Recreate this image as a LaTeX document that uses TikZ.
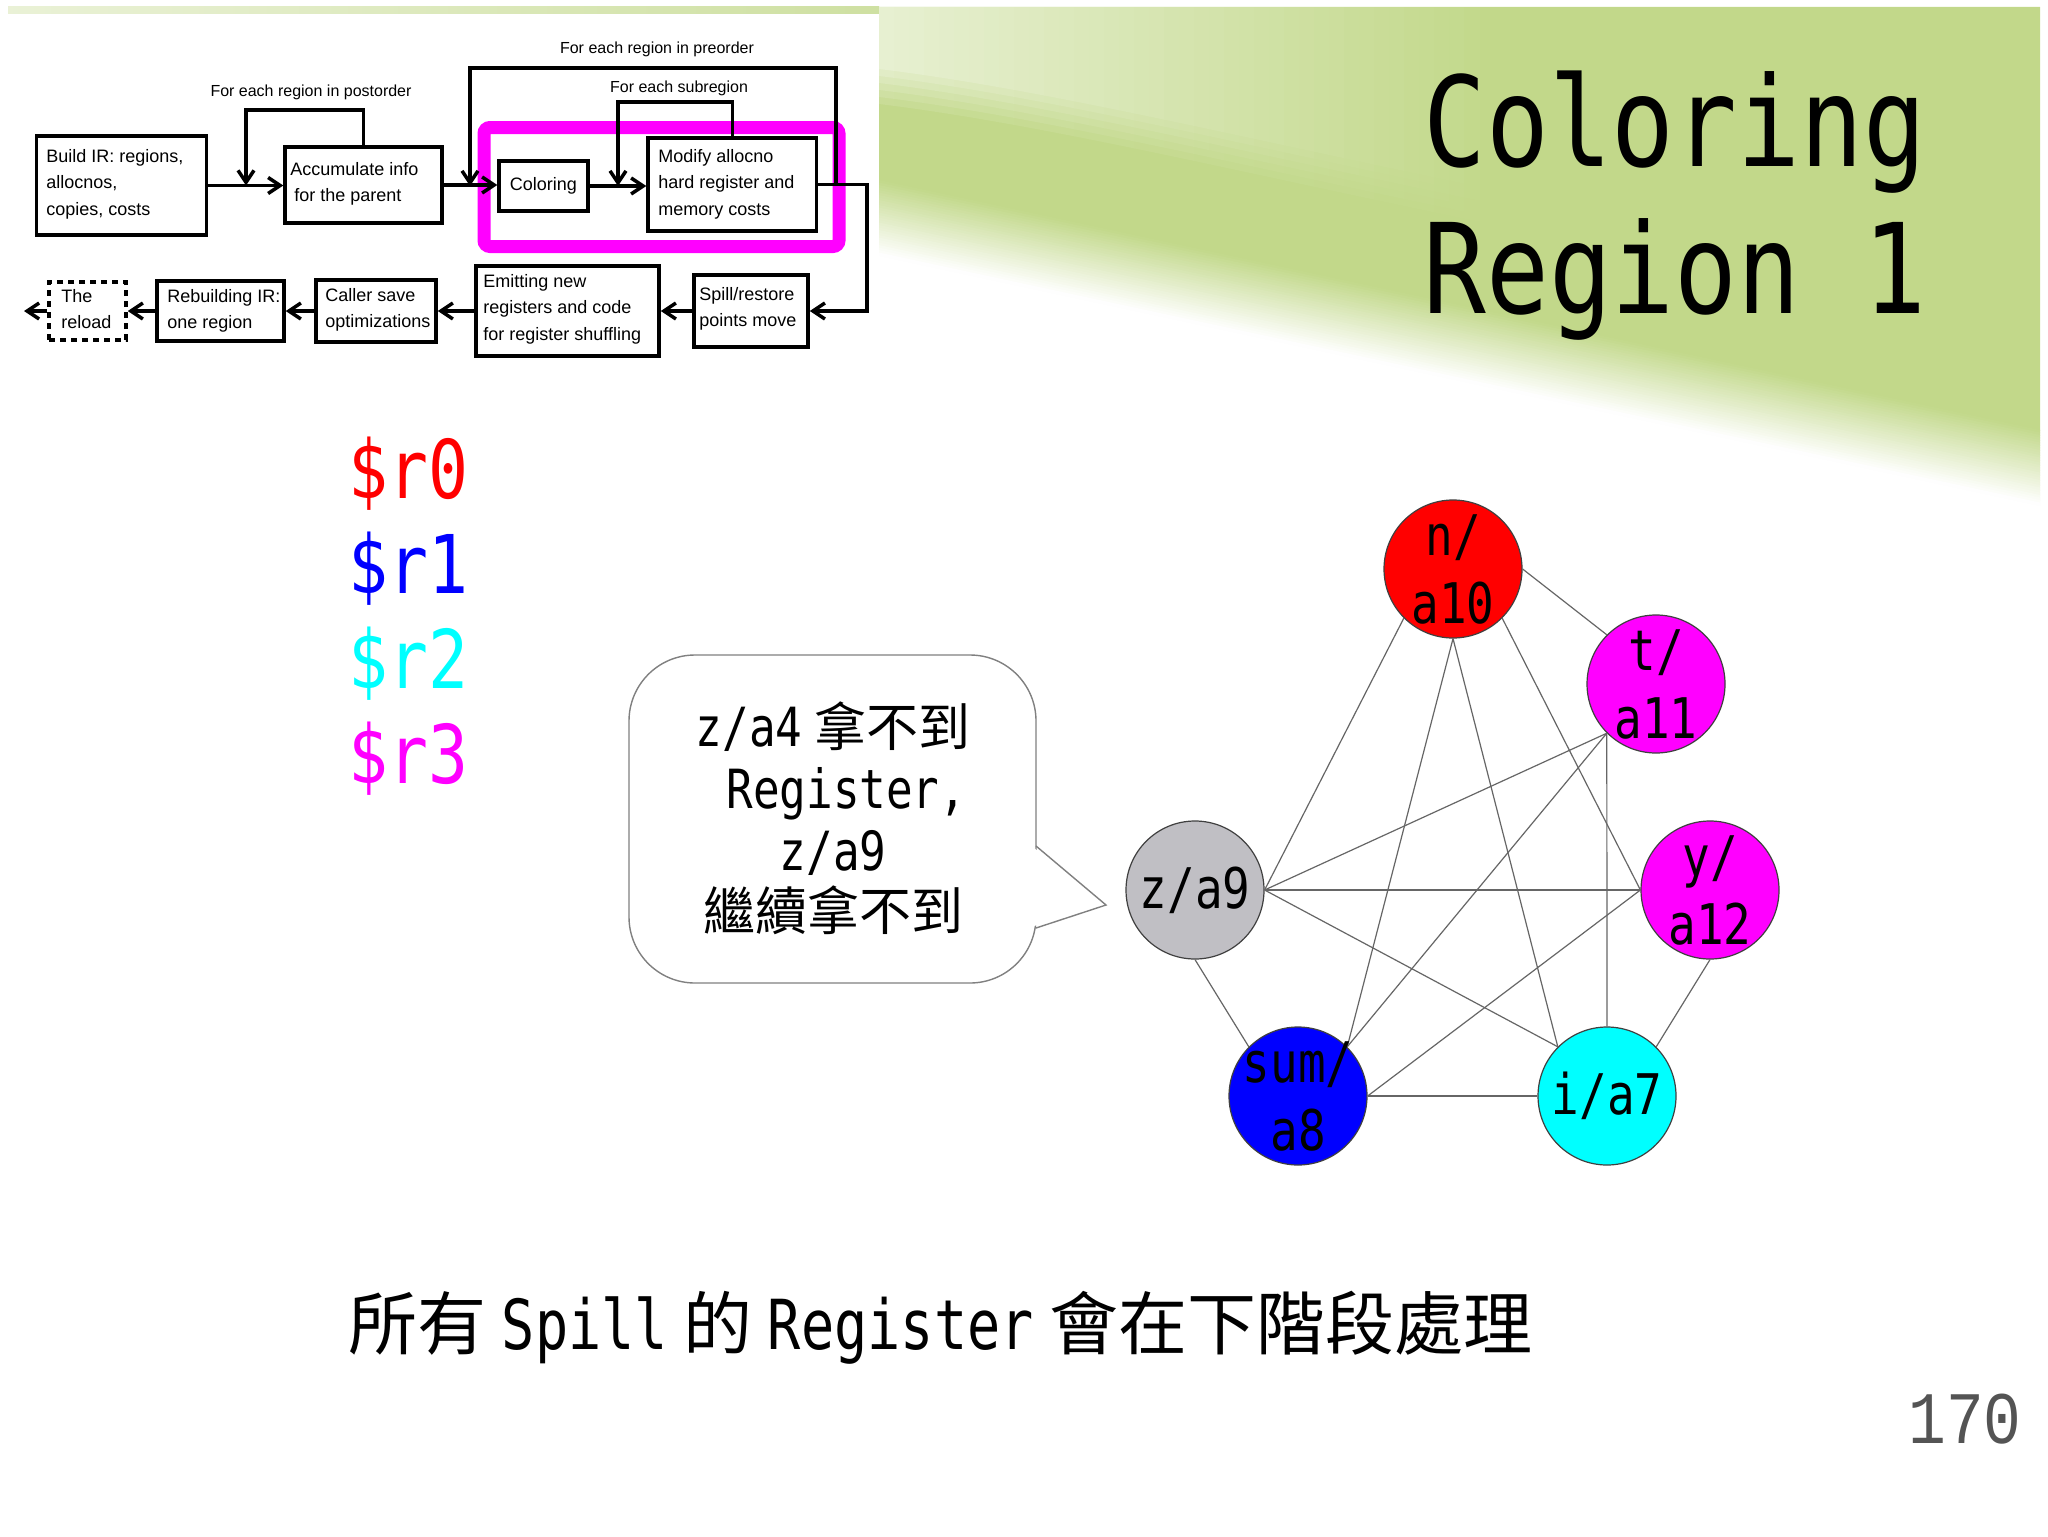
\documentclass[tikz,border=0pt]{standalone}
\usepackage{fontspec}
\usetikzlibrary{arrows.meta,calc}
\newfontfamily\monofont[FakeStretch=0.82]{DejaVu Sans Mono}
\newfontfamily\monotitle[FakeStretch=0.835]{DejaVu Sans Mono}
\newfontfamily\monob[FakeStretch=0.80]{DejaVu Sans Mono}
\newfontfamily\cjkfont{Noto Sans CJK TC}
\newfontfamily\fcfont{Liberation Sans}
\newfontfamily\pgnfont[FakeStretch=0.85]{Liberation Mono}
\definecolor{bggreen}{RGB}{194,216,138}
\definecolor{mag}{RGB}{255,0,255}
\definecolor{cyn}{RGB}{0,255,255}
\definecolor{zgray}{RGB}{192,191,196}
\definecolor{rd}{RGB}{255,0,0}
\definecolor{bl}{RGB}{0,0,255}
\begin{document}
\begin{tikzpicture}[x=0.5pt,y=-0.5pt,
  fcarrow/.style={line width=1.75pt,-{Straight Barb[length=6pt,width=8pt]}},
  fcbox/.style={draw,line width=1.75pt,inner sep=0pt},
  fctext/.style={anchor=west,align=left,inner sep=0pt,font=\fcfont\fontsize{9}{13.25}\selectfont},
  fclabel/.style={inner sep=0pt,font=\fcfont\fontsize{8}{10}\selectfont},
  gnode/.style={circle,minimum size=69pt,inner sep=0pt,draw=black!75,line width=0.6pt},
  gtext/.style={align=center,inner sep=0pt,font=\monofont\fontsize{28}{34}\selectfont},
  gedge/.style={draw=black!60,line width=0.6pt},
  bubbleline/.style={draw=black!50,line width=0.7pt},
  btext/.style={anchor=base,inner sep=0pt},
  regtext/.style={anchor=base west,inner sep=0pt,font=\monofont\fontsize{40.5}{48}\selectfont}]
\useasboundingbox (0,0) rectangle (2048,1536);
\fill[white] (0,0) rectangle (2048,1536);
% ---------- background ----------
\shade[left color=bggreen!35!white,right color=bggreen!80!white] (8,7) rectangle (879,14);
\fill[bggreen] (879,7) -- (2040,7) -- (2040,431) -- (879,181) -- cycle;
\foreach \k in {0,...,29}{
  \pgfmathsetmacro{\ta}{\k/30}
  \pgfmathsetmacro{\tb}{(\k+1)/30+0.01}
  \pgfmathtruncatemacro{\pc}{100-100*(\k+0.5)/30}
  \fill[bggreen!\pc!white] (879,{180+\ta*75}) -- (2040,{430+\ta*75}) -- (2040,{430+\tb*75}) -- (879,{180+\tb*75}) -- cycle;
}
\foreach \d in {0,...,5}{
  \begin{scope}
    \clip (879,7) -- (1500,7) -- (1500,{226-\d*7}) .. controls (1250,{175-\d*7}) and (1050,{125-\d*7}) .. (879,{104-\d*7}) -- cycle;
    \foreach \k in {0,...,39}{
      \pgfmathsetmacro{\xa}{879+\k*15}
      \pgfmathtruncatemacro{\pc}{100-100*0.6*(1-\k/40)*(\d+1)/6}
      \fill[bggreen!\pc!white] (\xa,7) rectangle ({\xa+16},260);
    }
  \end{scope}
}
% ---------- flowchart ----------
\draw[mag,line width=6.5pt,rounded corners=3pt] (484,127.5) rectangle (839,246.5);
\node[fcbox,minimum width=85pt,minimum height=49.5pt] (build) at (121.5,185.5) {};
\node[fcbox,minimum width=78.5pt,minimum height=38pt] (acc) at (363.5,185) {};
\node[fcbox,minimum width=44.5pt,minimum height=25pt] (col) at (543.5,186) {};
\node[fcbox,minimum width=84.25pt,minimum height=46.5pt] (mod) at (732.25,184.5) {};
\node[fcbox,minimum width=57pt,minimum height=36pt] (spill) at (751,311) {};
\node[fcbox,minimum width=91.5pt,minimum height=45pt] (emit) at (567.5,311) {};
\node[fcbox,minimum width=60pt,minimum height=31pt] (caller) at (376,311) {};
\node[fcbox,minimum width=63.5pt,minimum height=30pt] (rebuild) at (220.5,311) {};
\node[fcbox,dash pattern=on 3pt off 2.5pt,minimum width=38.5pt,minimum height=29pt] (reload) at (87.5,311) {};
\node[fctext] (buildt) at (46,184) {Build IR: regions,\\allocnos,\\copies, costs};
\node[fctext] (acct) at (290,184) {Accumulate info\\\hspace*{2pt}for the parent};
\node[inner sep=0pt,font=\fcfont\fontsize{9}{13.25}\selectfont] (colt) at (col) {Coloring};
\node[fctext] (modt) at (658,184) {Modify allocno\\hard register and\\memory costs};
\node[fctext] (spillt) at (699,309) {Spill/restore\\points move};
\node[fctext] (emitt) at (483,309) {Emitting new\\registers and code\\for register shuffling};
\node[fctext] (callert) at (325,310) {Caller save\\optimizations};
\node[fctext] (rebuildt) at (167,311) {Rebuilding IR:\\one region};
\node[fctext] (reloadt) at (61,309) {The\\reload};
\node[fclabel] (lpost) at (311,92) {For each region in postorder};
\node[fclabel] (lpre) at (657,49) {For each region in preorder};
\node[fclabel] (lsub) at (679,88) {For each subregion};
\coordinate (po) at (246,110);
\coordinate (pr1) at (470,68);
\coordinate (pr2) at (836,68);
\coordinate (sr) at (618,102);
\coordinate (mo) at (867,185);
\coordinate (out) at (24,311);
\draw[fcarrow] (build.east) -- (build.east -| acc.west);
\draw[fcarrow] (acc.north) |- (po) -- (po |- build.east);
\draw[fcarrow] (acc.east) -- (acc.east -| col.west);
\draw[fcarrow] (pr2 |- mod.east) -- (pr2) -- (pr1) -- (pr1 |- col.west);
\draw[fcarrow] (col.east) -- (col.east -| mod.west);
\draw[fcarrow] (mod.north) |- (sr) -- (sr |- col.east);
\draw[fcarrow] (mod.east) -- (mod.east -| mo) |- (spill.east);
\draw[fcarrow] (spill.west) -- (spill.west -| emit.east);
\draw[fcarrow] (emit.west) -- (emit.west -| caller.east);
\draw[fcarrow] (caller.west) -- (caller.west -| rebuild.east);
\draw[fcarrow] (rebuild.west) -- (rebuild.west -| reload.east);
\draw[fcarrow] (reload.west) -- (out);
% ---------- title ----------
\node[anchor=base west,inner sep=0pt,font=\monotitle\fontsize{62.5}{74}\selectfont] (title1) at (1423,166) {Coloring};
\node[anchor=base west,inner sep=0pt,font=\monotitle\fontsize{62.5}{74}\selectfont] (title2) at (1423,313) {Region 1};
% ---------- registers ----------
\node[regtext,text=rd] (r0) at (348,498) {\$r0};
\node[regtext,text=bl] (r1) at (348,593) {\$r1};
\node[regtext,text=cyn] (r2) at (348,688) {\$r2};
\node[regtext,text=mag] (r3) at (348,783) {\$r3};
% ---------- bubble ----------
\draw[bubbleline,fill=white,rounded corners=33pt] (629,655) rectangle (1036,983);
\fill[white] (1034,848) -- (1106,905) -- (1034,926) -- cycle;
\draw[bubbleline,line join=miter] (1036,846) -- (1106,905) -- (1036,928);
\node[btext] (b1) at (833,746) {{\monofont\fontsize{27}{31}\selectfont z/a4}{\cjkfont\fontsize{26}{31}\selectfont\ 拿不到}};
\node[btext] (b2) at (833,808) {{\monofont\fontsize{27}{31}\selectfont\hphantom{x}Register,}};
\node[btext] (b3) at (833,870) {{\monofont\fontsize{27}{31}\selectfont z/a9}};
\node[btext] (b4) at (833,930) {{\cjkfont\fontsize{26}{31}\selectfont 繼續拿不到}};
% ---------- graph ----------
\node[gnode,fill=rd] (n) at (1453,569) {};
\node[gnode,fill=mag] (t) at (1656,684) {};
\node[gnode,fill=mag] (y) at (1710,890) {};
\node[gnode,fill=cyn] (i) at (1607,1096) {};
\node[gnode,fill=bl] (s) at (1298,1096) {};
\node[gnode,fill=zgray] (z) at (1195,890) {};
\draw[gedge] (n.east) -- (t.north west);
\draw[gedge] (n.south west) -- (z.east);
\draw[gedge] (n.south) -- (s.north east);
\draw[gedge] (n.south) -- (i.north west);
\draw[gedge] (n.south east) -- (y.west);
\draw[gedge] (t.south west) -- (z.east);
\draw[gedge] (t.south west) -- (s.north east);
\draw[gedge] (t.south west) -- (i.north);
\draw[gedge] (z.east) -- (y.west);
\draw[gedge] (z.east) -- (i.north west);
\draw[gedge] (z.south) -- (s.north west);
\draw[gedge] (y.west) -- (s.east);
\draw[gedge] (y.south) -- (i.north east);
\draw[gedge] (s.east) -- (i.west);
\node[gtext] (nt) at (n) {n/\\a10};
\node[gtext] (tt) at (t) {t/\\a11};
\node[gtext] (yt) at (y) {y/\\a12};
\node[gtext] (it) at (i) {i/a7};
\node[gtext] (st) at (s) {sum/\\a8};
\node[gtext] (zt) at (z) {z/a9};
% ---------- bottom ----------
\node[anchor=base west,inner sep=0pt] (bottom) at (348,1349)
  {\fontsize{34.5}{42}\selectfont{\cjkfont 所有\ }{\monob Spill}{\cjkfont\ 的\ }{\monob Register}{\cjkfont\ 會在下階段處理}};
\node[anchor=base east,inner sep=0pt,text=black!67,font=\pgnfont\fontsize{37}{44}\selectfont] (pg) at (2022,1443) {170};
\end{tikzpicture}
\end{document}
